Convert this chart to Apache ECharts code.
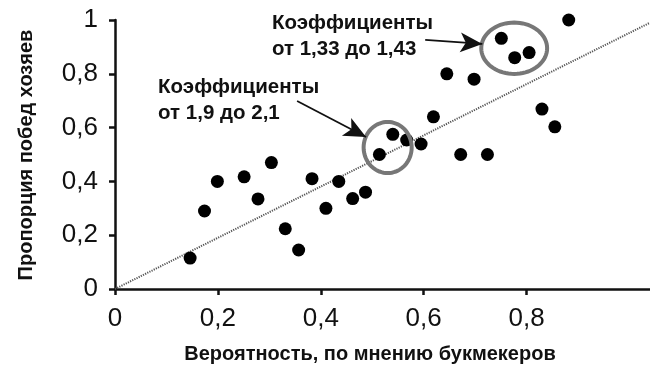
<!DOCTYPE html>
<html>
<head>
<meta charset="utf-8">
<script src="https://cdn.jsdelivr.net/npm/echarts@6/dist/echarts.min.js"></script>
<style>html,body{margin:0;padding:0;background:#fff}#c{width:650px;height:380px}</style>
</head>
<body>
<div id="c"></div>
<script>
// Data
const pointsX = [0.146,0.174,0.199,0.251,0.278,0.304,0.331,0.357,0.383,0.410,0.435,0.462,0.487,0.514,0.540,0.567,0.595,0.619,0.645,0.672,0.698,0.724,0.751,0.777,0.805,0.830,0.855,0.882];
const pointsY = [0.115,0.290,0.400,0.417,0.335,0.470,0.224,0.145,0.410,0.300,0.400,0.336,0.360,0.500,0.575,0.554,0.539,0.640,0.800,0.500,0.780,0.500,0.932,0.860,0.879,0.669,0.603,1.000];
const diagX = [0, 1.04];
const diagY = [0, 0.99];
const xTicks = [0, 0.2, 0.4, 0.6, 0.8];
const yTicks = [0, 0.2, 0.4, 0.6, 0.8, 1];
const xTitle = 'Вероятность, по мнению букмекеров';
const yTitle = 'Пропорция побед хозяев';
// annotations (data coordinates)
const noteTexts = ['Коэффициенты\nот 1,9 до 2,1', 'Коэффициенты\nот 1,33 до 1,43'];
const noteX = [0.0837, 0.305];
const noteY = [0.701, 0.940];
const arrowFrom = [[0.354, 0.699], [0.603, 0.926]];
const arrowTo = [[0.488, 0.565], [0.714, 0.911]];
const ellipseCx = [0.530, 0.776];
const ellipseCy = [0.526, 0.895];
const ellipseRx = [0.0467, 0.064];
const ellipseRy = [0.095, 0.0955];

const fmt = v => String(Math.round(v * 10) / 10).replace('.', ',');
const FONT = 'Liberation Sans';

const chart = echarts.init(document.getElementById('c'), null, {renderer: 'canvas'});
chart.setOption({
  animation: false,
  backgroundColor: '#fff',
  grid: {left: 115, top: 20, width: 535, height: 269},
  xAxis: {
    type: 'value', min: 0, max: 1.04, interval: 0.2,
    axisLine: {lineStyle: {color: '#111', width: 2.5}},
    axisTick: {show: true, length: 6, customValues: xTicks, lineStyle: {color: '#111', width: 2.5}},
    axisLabel: {customValues: xTicks, formatter: fmt, fontFamily: FONT, fontSize: 26, color: '#111', margin: 17},
    splitLine: {show: false}
  },
  yAxis: {
    type: 'value', min: 0, max: 1, interval: 0.2,
    axisLine: {show: true, lineStyle: {color: '#111', width: 2.5}},
    axisTick: {show: true, length: 6, customValues: yTicks, lineStyle: {color: '#111', width: 2.5}},
    axisLabel: {customValues: yTicks, formatter: fmt, fontFamily: FONT, fontSize: 26, color: '#111', margin: 17},
    splitLine: {show: false}
  },
  graphic: [
    {type: 'text', x: 370, y: 354, style: {text: xTitle, font: 'bold 20px "Liberation Sans"', fill: '#111', align: 'center', verticalAlign: 'middle'}},
    {type: 'text', x: 26, y: 155, rotation: Math.PI / 2, style: {text: yTitle, font: 'bold 20px "Liberation Sans"', fill: '#111', align: 'center', verticalAlign: 'middle'}}
  ],
  series: [
    {
      type: 'line', data: diagX.map((x, i) => [x, diagY[i]]), showSymbol: false, silent: true, z: 1,
      lineStyle: {color: '#555', width: 2, type: [1.2, 1.2]}
    },
    {
      type: 'scatter', data: pointsX.map((x, i) => [x, pointsY[i]]), symbolSize: 13, z: 3,
      itemStyle: {color: '#000', opacity: 1}
    },
    {
      type: 'custom', z: 4, silent: true,
      data: ellipseCx.map((x, i) => [x, ellipseCy[i], ellipseRx[i], ellipseRy[i]]),
      renderItem: function (params, api) {
        const c = api.coord([api.value(0), api.value(1)]);
        const s = api.size([api.value(2), api.value(3)]);
        const pts = [];
        for (let k = 0; k < 72; k++) {
          const t = k / 72 * Math.PI * 2;
          pts.push([c[0] + s[0] * Math.cos(t), c[1] + s[1] * Math.sin(t)]);
        }
        return {type: 'polygon', shape: {points: pts}, style: {fill: 'none', stroke: '#777', lineWidth: 4}};
      }
    },
    {
      type: 'scatter', z: 5, silent: true, symbolSize: 0,
      itemStyle: {color: '#111', opacity: 1},
      data: noteX.map((x, i) => ({value: [x, noteY[i]], label: {formatter: noteTexts[i]}})),
      label: {show: true, position: [0, 0], align: 'left', verticalAlign: 'middle', fontFamily: FONT, fontWeight: 'bold', fontSize: 20.5, lineHeight: 25.5, color: '#111', opacity: 1, textBorderWidth: 0, textBorderColor: 'transparent'},
      markLine: {
        silent: true, animation: false, symbol: ['none', 'arrow'], symbolSize: [15, 22],
        label: {show: false},
        lineStyle: {color: '#111', width: 1.8, type: 'solid', opacity: 1},
        itemStyle: {opacity: 1},
        data: arrowFrom.map((f, i) => [{coord: f}, {coord: arrowTo[i]}])
      }
    }
  ]
});
</script>
</body>
</html>
